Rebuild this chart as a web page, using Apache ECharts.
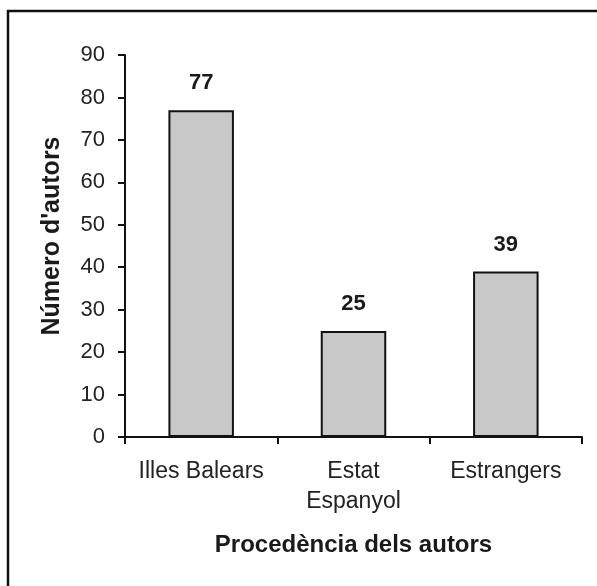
<!DOCTYPE html>
<html>
<head>
<meta charset="utf-8">
<script src="https://cdn.jsdelivr.net/npm/echarts@6/dist/echarts.min.js"></script>
<style>
  html, body { margin: 0; padding: 0; background: #fff; }
  #chart { width: 597px; height: 586px; }
</style>
</head>
<body>
<div id="chart"></div>
<script>
var categories = ['Illes Balears', 'Estat\nEspanyol', 'Estrangers']
var autors = [77, 25, 39]
var yTicks = [0, 10, 20, 30, 40, 50, 60, 70, 80, 90]

var font = 'Liberation Sans, Arial, sans-serif'
var chart = echarts.init(document.getElementById('chart'))

chart.setOption({
  backgroundColor: '#fff',
  animation: false,
  graphic: [{
    // page frame, only left and top edges show
    type: 'rect',
    shape: { x: 8, y: 11, width: 700, height: 700 },
    style: { fill: null, stroke: '#111', lineWidth: 2.5 },
    silent: true
  }],
  grid: {
    left: 125,
    right: 15,
    top: 55,
    bottom: 149
  },
  xAxis: {
    type: 'category',
    data: categories,
    name: 'Procedència dels autors',
    nameLocation: 'middle',
    nameGap: 96,
    nameTextStyle: { fontFamily: font, fontSize: 24, fontWeight: 'bold', color: '#1a1a1a' },
    axisLine: { lineStyle: { color: '#111', width: 2 } },
    axisTick: { show: true, interval: 0, length: 7, lineStyle: { color: '#111', width: 2 } },
    axisLabel: {
      interval: 0,
      hideOverlap: false,
      fontFamily: font, fontSize: 23, color: '#222',
      margin: 20, lineHeight: 30
    }
  },
  yAxis: {
    type: 'value',
    min: yTicks[0],
    max: yTicks[yTicks.length - 1],
    interval: 10,
    name: "Número d'autors",
    nameLocation: 'middle',
    nameGap: 60,
    nameTextStyle: {
      fontFamily: font, fontSize: 25, fontWeight: 'bold', color: '#1a1a1a',
      padding: [0, 0, 0, 20]
    },
    axisLine: { show: true, lineStyle: { color: '#111', width: 2 } },
    axisTick: { show: true, length: 7, lineStyle: { color: '#111', width: 2 } },
    axisLabel: { fontFamily: font, fontSize: 22, color: '#222', margin: 20 },
    splitLine: { show: false }
  },
  series: [{
    type: 'bar',
    data: autors,
    barWidth: '43%',
    itemStyle: {
      color: '#c8c8c8',
      borderColor: '#111',
      borderWidth: 2
    },
    label: {
      show: true,
      position: 'top',
      distance: 16,
      fontFamily: font,
      fontSize: 22,
      fontWeight: 'bold',
      color: '#1a1a1a'
    }
  }]
})
</script>
</body>
</html>
